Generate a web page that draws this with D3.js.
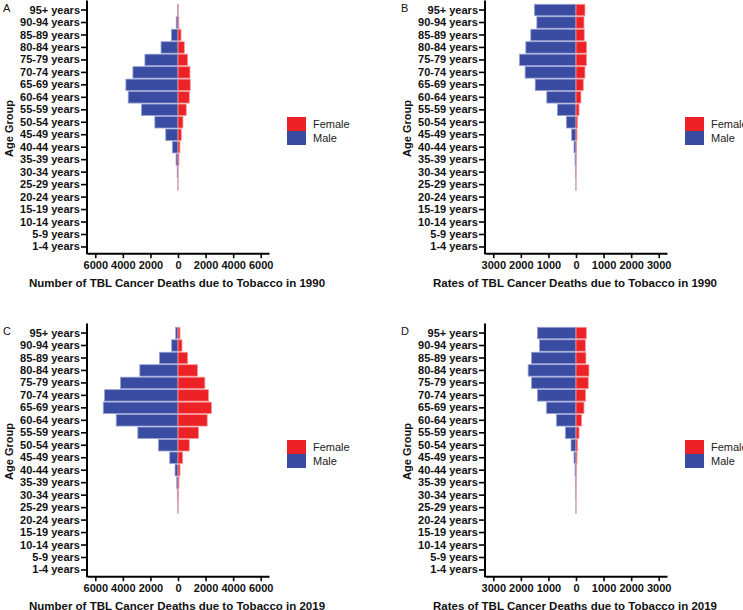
<!DOCTYPE html>
<html>
<head>
<meta charset="utf-8">
<script src="https://cdn.jsdelivr.net/npm/d3@7"></script>
<style>
  html, body { margin: 0; padding: 0; background: #fff; }
  svg { display: block; font-family: "Liberation Sans", Arial, sans-serif; }
</style>
</head>
<body>
<svg id="chart" width="743" height="610"></svg>
<script>
const ageGroups = ["95+ years","90-94 years","85-89 years","80-84 years","75-79 years","70-74 years",
  "65-69 years","60-64 years","55-59 years","50-54 years","45-49 years","40-44 years","35-39 years",
  "30-34 years","25-29 years","20-24 years","15-19 years","10-14 years","5-9 years","1-4 years"];

// Number of deaths, 1990
const male1990Deaths   = [30, 130, 480, 1230, 2400, 3270, 3780, 3610, 2650, 1680, 890, 410, 140, 60, 10, 0, 0, 0, 0, 0];
const female1990Deaths = [10, 60, 220, 460, 700, 870, 890, 820, 600, 360, 240, 140, 70, 10, 3, 0, 0, 0, 0, 0];
// Rates, 1990
const male1990Rates    = [1506, 1420, 1640, 1820, 2050, 1845, 1480, 1060, 675, 350, 157, 72, 36, 24, 5, 0, 0, 0, 0, 0];
const female1990Rates  = [325, 290, 300, 385, 385, 325, 265, 180, 110, 60, 36, 18, 8, 4, 1, 0, 0, 0, 0, 0];
// Number of deaths, 2019
const male2019Deaths   = [170, 460, 1350, 2770, 4170, 5330, 5420, 4480, 2915, 1420, 600, 215, 96, 48, 15, 0, 0, 0, 0, 0];
const female2019Deaths = [145, 290, 700, 1420, 1950, 2220, 2430, 2120, 1490, 820, 340, 145, 72, 20, 5, 0, 0, 0, 0, 0];
// Rates, 2019
const male2019Rates    = [1400, 1325, 1615, 1735, 1615, 1400, 1070, 710, 385, 180, 72, 36, 24, 12, 3, 0, 0, 0, 0, 0];
const female2019Rates  = [375, 340, 360, 470, 445, 350, 290, 205, 110, 60, 36, 12, 6, 3, 1, 0, 0, 0, 0, 0];

const countTicks = [-6000, -4000, -2000, 0, 2000, 4000, 6000];
const rateTicks  = [-3000, -2000, -1000, 0, 1000, 2000, 3000];
const countMax = 6600, rateMax = 3300;

const seriesNames = ["Female", "Male"];
const colors = { Female: "#ec2227", Male: "#3a4ca1" };
const strokes = { Female: "#f49a9c", Male: "#9aa2d4" };

const panels = [
  { label: "A", male: male1990Deaths, female: female1990Deaths, ticks: countTicks, max: countMax,
    title: "Number of TBL Cancer Deaths due to Tobacco in 1990", x0: 87, x1: 269, dy: 0 },
  { label: "B", male: male1990Rates, female: female1990Rates, ticks: rateTicks, max: rateMax,
    title: "Rates of TBL Cancer Deaths due to Tobacco in 1990", x0: 485, x1: 667, dy: 0 },
  { label: "C", male: male2019Deaths, female: female2019Deaths, ticks: countTicks, max: countMax,
    title: "Number of TBL Cancer Deaths due to Tobacco in 2019", x0: 87, x1: 269, dy: 323 },
  { label: "D", male: male2019Rates, female: female2019Rates, ticks: rateTicks, max: rateMax,
    title: "Rates of TBL Cancer Deaths due to Tobacco in 2019", x0: 485, x1: 667, dy: 323 }
];

const svg = d3.select("#chart");

panels.forEach(p => {
  const g = svg.append("g").attr("transform", `translate(0,${p.dy})`);
  const bandTop = 3.8, bandBottom = 253.2;
  const y = d3.scaleBand().domain(ageGroups).range([bandTop, bandBottom]).paddingInner(0).paddingOuter(0);
  const x = d3.scaleLinear().domain([-p.max, p.max]).range([p.x0, p.x1]);
  const bh = y.bandwidth();

  // bars: male to the left, female to the right
  const rows = ageGroups.map((a, i) => ({ age: a, male: p.male[i], female: p.female[i] }));
  g.append("g").selectAll("rect.male").data(rows.filter(d => d.male > 0)).join("rect")
    .attr("x", d => x(-d.male)).attr("width", d => x(0) - x(-d.male))
    .attr("y", d => y(d.age) + 0.5).attr("height", bh - 1)
    .attr("fill", colors.Male).attr("stroke", strokes.Male).attr("stroke-width", 0.8);
  g.append("g").selectAll("rect.female").data(rows.filter(d => d.female > 0)).join("rect")
    .attr("x", x(0)).attr("width", d => x(d.female) - x(0))
    .attr("y", d => y(d.age) + 0.5).attr("height", bh - 1)
    .attr("fill", colors.Female).attr("stroke", strokes.Female).attr("stroke-width", 0.8);

  // x axis
  const xAxis = g.append("g").attr("transform", `translate(0,${bandBottom})`)
    .call(d3.axisBottom(x).tickValues(p.ticks).tickSize(5).tickSizeOuter(0)
      .tickFormat(d => String(Math.abs(d))));
  xAxis.select(".domain").attr("stroke", "#000").attr("stroke-width", 2);
  xAxis.selectAll(".tick line").attr("stroke", "#000").attr("stroke-width", 1.6);
  xAxis.selectAll(".tick text").attr("font-size", 11).attr("font-weight", "bold")
    .attr("fill", "#111").attr("dy", "0.95em").attr("y", 5);

  // y axis
  const yAxis = g.append("g").attr("transform", `translate(${p.x0},0)`)
    .call(d3.axisLeft(y).tickSize(6).tickSizeOuter(0));
  yAxis.select(".domain").remove();
  yAxis.append("line").attr("x1", 0).attr("x2", 0).attr("y1", 0.6).attr("y2", bandBottom + 1)
    .attr("stroke", "#000").attr("stroke-width", 2);
  yAxis.selectAll(".tick line").attr("stroke", "#000").attr("stroke-width", 1.6);
  yAxis.selectAll(".tick text").attr("font-size", 11).attr("font-weight", "bold")
    .attr("fill", "#111").attr("x", -7);

  // titles
  g.append("text").attr("x", (p.x0 + p.x1) / 2 - 1).attr("y", 286.5).attr("text-anchor", "middle")
    .attr("font-size", 11.5).attr("font-weight", "bold").attr("fill", "#111").text(p.title);
  g.append("text").attr("text-anchor", "middle")
    .attr("font-size", 11).attr("font-weight", "bold").attr("fill", "#111")
    .attr("transform", `translate(${p.x0 - 74.5},128.5) rotate(-90)`).text("Age Group");
  g.append("text").attr("x", p.x0 - 84).attr("y", 11.5).attr("font-size", 11)
    .attr("fill", "#111").text(p.label);

  // legend
  const lg = g.append("g").attr("transform", `translate(${p.x0 + 200},117)`);
  seriesNames.forEach((s, i) => {
    lg.append("rect").attr("x", 0).attr("y", i * 14).attr("width", 19).attr("height", 14)
      .attr("fill", colors[s]);
    lg.append("text").attr("x", 26).attr("y", i * 14 + 7).attr("dy", "0.35em")
      .attr("font-size", 11).attr("fill", "#222").text(s);
  });
});
</script>
</body>
</html>
